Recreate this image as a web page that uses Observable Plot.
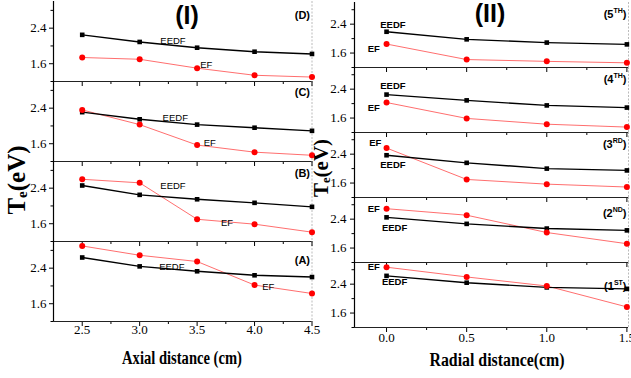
<!DOCTYPE html>
<html>
<head>
<meta charset="utf-8">
<script src="https://cdn.jsdelivr.net/npm/d3@7"></script>
<script src="https://cdn.jsdelivr.net/npm/@observablehq/plot@0.6"></script>
<style>
  html, body { margin: 0; padding: 0; background: #fff; }
  #wrap { position: relative; width: 631px; height: 378px; overflow: hidden; background: #fff; }
  #left, #right { position: absolute; top: 0; }
  #left { left: 0; }
  #right { left: 316px; }
  .t { position: absolute; white-space: nowrap; color: #000; line-height: 1; }
  .title { font-family: "Liberation Sans Narrow", "Liberation Sans", sans-serif; font-weight: bold; font-size: 25px; transform: translate(-50%, -50%); }
  .ylab { font-family: "Liberation Serif", serif; font-weight: bold; transform: translate(-50%, -50%) rotate(-90deg); }
  .ylab sub { font-size: 0.6em; vertical-align: -0.15em; }
  .xlab { font-family: "Liberation Serif", serif; font-weight: bold; font-size: 18px; }
</style>
</head>
<body>
<div id="wrap">
  <div id="left"></div>
  <div id="right"></div>
  <div class="t title" style="left:187px; top:15px;">(I)</div>
  <div class="t title" style="left:490px; top:13px;">(II)</div>
  <div class="t ylab" style="left:17px; top:180px; font-size:25px;">T<sub>e</sub>(eV)</div>
  <div class="t ylab" style="left:322px; top:168px; font-size:21px;">T<sub>e</sub>(eV)</div>
  <div class="t xlab" style="left:182px; top:357.5px; transform: translate(-50%, -50%) scaleX(0.81);">Axial distance (cm)</div>
  <div class="t xlab" style="left:497px; top:360px; transform: translate(-50%, -50%) scaleX(0.88);">Radial distance(cm)</div>
</div>
<script>
// ---------------- Data ----------------
// Panel (I): axial distance (cm)
const axialX = [2.5, 3.0, 3.5, 4.0, 4.5];
const axialPanels = ["D", "C", "B", "A"];
const eedfD = [2.25, 2.09, 1.96, 1.87, 1.82];
const efD   = [1.74, 1.70, 1.50, 1.34, 1.30];
const eedfC = [2.31, 2.15, 2.03, 1.96, 1.89];
const efC   = [2.36, 2.03, 1.57, 1.41, 1.34];
const eedfB = [2.46, 2.25, 2.15, 2.07, 1.98];
const efB   = [2.60, 2.52, 1.70, 1.59, 1.41];
const eedfA = [2.64, 2.44, 2.33, 2.24, 2.20];
const efA   = [2.90, 2.69, 2.55, 2.02, 1.83];

// Panel (II): radial distance (cm)
const radialX = [0.0, 0.5, 1.0, 1.5];
const radialPanels = ["5", "4", "3", "2", "1"];
const radialSup = ["TH", "TH", "RD", "ND", "ST"];
const eedf5 = [2.19, 1.98, 1.89, 1.84];
const ef5   = [1.85, 1.42, 1.37, 1.33];
const eedf4 = [2.25, 2.09, 1.95, 1.89];
const ef4   = [2.03, 1.59, 1.43, 1.35];
const eedf3 = [2.37, 2.16, 2.00, 1.95];
const ef3   = [2.57, 1.70, 1.57, 1.49];
const eedf2 = [2.45, 2.27, 2.14, 2.09];
const ef2   = [2.69, 2.51, 2.03, 1.72];
const eedf1 = [2.63, 2.44, 2.31, 2.27];
const ef1   = [2.87, 2.60, 2.35, 1.77];

// Ticks
const yMajorTicks = [1.6, 2.4];
const yMinorTicks = [1.2, 2.0, 2.8];
const axialMajorTicks = [2.5, 3.0, 3.5, 4.0, 4.5];
const axialMinorTicks = [2.75, 3.25, 3.75, 4.25];
const radialMajorTicks = [0.0, 0.5, 1.0, 1.5];
const radialMinorTicks = [0.25, 0.75, 1.25];

// Curve annotations (panel, text, x, y in data units)
const axialNotePanel = ["D", "D", "C", "C", "B", "B", "A", "A"];
const axialNoteText  = ["EEDF", "EF", "EEDF", "EF", "EEDF", "EF", "EEDF", "EF"];
const axialNoteX     = [3.29, 3.58, 3.31, 3.61, 3.29, 3.76, 3.28, 4.12];
const axialNoteY     = [2.12, 1.58, 2.18, 1.61, 2.46, 1.62, 2.42, 1.97];
const axialTagY      = [2.69, 2.76, 2.73, 2.58];

const radialNotePanel = ["5", "5", "4", "4", "3", "3", "2", "2", "1", "1"];
const radialNoteText  = ["EEDF", "EF", "EEDF", "EF", "EF", "EEDF", "EF", "EEDF", "EF", "EEDF"];
const radialNoteX     = [0.04, -0.08, 0.04, -0.08, -0.07, 0.04, -0.08, 0.05, -0.08, 0.05];
const radialNoteY     = [2.37, 1.71, 2.50, 1.89, 2.70, 2.11, 2.69, 2.16, 2.88, 2.45];
const radialTagY      = [2.68, 2.68, 2.66, 2.55, 2.35];

// ---------------- Build ----------------
function buildRows(panels, xs, eedfs, efs) {
  return panels.flatMap((p, i) => xs.map((x, j) => ({panel: p, x, eedf: eedfs[i][j], ef: efs[i][j]})));
}
function buildNotes(panels, texts, xs, ys) {
  return panels.map((p, i) => ({panel: p, text: texts[i], x: xs[i], y: ys[i]}));
}

const axialRows = buildRows(axialPanels, axialX, [eedfD, eedfC, eedfB, eedfA], [efD, efC, efB, efA]);
const radialRows = buildRows(radialPanels, radialX, [eedf5, eedf4, eedf3, eedf2, eedf1], [ef5, ef4, ef3, ef2, ef1]);
const axialNotes = buildNotes(axialNotePanel, axialNoteText, axialNoteX, axialNoteY);
const radialNotes = buildNotes(radialNotePanel, radialNoteText, radialNoteX, radialNoteY);
const axialTags = axialPanels.map((p, i) => ({panel: p, label: `(${p})`, y: axialTagY[i]}));
const radialTags = radialPanels.map((p, i) => ({panel: p, label: `(${p}|${radialSup[i]})`, y: radialTagY[i]}));

const fmt = d3.format(".1f");

function makeChart(o) {
  const svg = Plot.plot({
    width: o.width, height: o.height,
    marginLeft: o.marginLeft, marginRight: o.marginRight, marginTop: 0, marginBottom: o.marginBottom,
    style: {fontFamily: '"Liberation Serif", serif', fontSize: "13px", background: "transparent", overflow: "visible", color: "#000"},
    x: {domain: o.xDomain},
    y: {domain: [1.2, 3.0]},
    fy: {domain: o.panels, padding: 0, axis: null},
    marks: [
      Plot.ruleX([o.xDomain[1]], {stroke: "#bbb", strokeDasharray: "2,1.5"}),
      Plot.axisY({ticks: yMajorTicks, tickSize: 4, tickPadding: o.yPad, tickFormat: fmt, fontSize: 13, label: null}),
      Plot.axisY({ticks: yMinorTicks, tickSize: 2.5, fill: "none", label: null}),
      Plot.axisX({ticks: o.majorX, tickSize: 5, fill: "none", facetAnchor: null, label: null}),
      Plot.axisX({ticks: o.minorX, tickSize: 3, fill: "none", facetAnchor: null, label: null}),
      Plot.axisX({ticks: o.majorX, tickSize: 0, tickPadding: o.xPad, tickFormat: fmt, fontSize: 13, label: null}),
      Plot.line(o.rows, {x: "x", y: "ef", fy: "panel", stroke: "#ff1a1a", strokeWidth: 0.8, strokeOpacity: 0.8}),
      Plot.line(o.rows, {x: "x", y: "eedf", fy: "panel", stroke: "#000", strokeWidth: 1.4}),
      Plot.dot(o.rows, {x: "x", y: "eedf", fy: "panel", symbol: "square", r: 2.6, fill: "#000"}),
      Plot.dot(o.rows, {x: "x", y: "ef", fy: "panel", r: 3, fill: "#ff0000"}),
      Plot.text(o.notes, {x: "x", y: "y", fy: "panel", text: "text", fontFamily: '"Liberation Sans", sans-serif', fontSize: 9.5, fontWeight: o.noteWeight, fill: "#000"}),
      Plot.text(o.tags, {x: () => o.xDomain[1], y: "y", fy: "panel", text: "label", textAnchor: "end", dx: -2, fontFamily: '"Liberation Sans", sans-serif', fontSize: 11, fontWeight: "bold", fill: "#000"}),
      Plot.ruleY([1.2], {stroke: "#222", strokeWidth: 1.2}),
      Plot.ruleX([o.xDomain[0]], {stroke: "#000", strokeWidth: 1.2})
    ]
  });
  // superscripts in panel tags, e.g. (5|TH) -> (5^TH)
  d3.select(svg).selectAll("text").each(function() {
    const s = this.textContent;
    const m = s.match(/^\((.*?)\|(.*)\)$/);
    if (!m) return;
    const t = d3.select(this);
    t.selectAll("*").remove();
    t.text(null);
    t.append("tspan").text("(" + m[1]);
    t.append("tspan").attr("dy", -5).attr("font-size", 7).text(m[2]);
    t.append("tspan").attr("dy", 5).text(")");
  });
  return svg;
}

document.getElementById("left").append(makeChart({
  width: 315, height: 378, marginLeft: 53, marginRight: 3.5, marginBottom: 57,
  xDomain: [2.25, 4.5], panels: axialPanels, rows: axialRows, notes: axialNotes, tags: axialTags,
  majorX: axialMajorTicks, minorX: axialMinorTicks, xPad: 3, yPad: 3, noteWeight: "normal"
}));
document.getElementById("right").append(makeChart({
  width: 315, height: 378, marginLeft: 38, marginRight: 3, marginBottom: 49,
  xDomain: [-0.2, 1.51], panels: radialPanels, rows: radialRows, notes: radialNotes, tags: radialTags,
  majorX: radialMajorTicks, minorX: radialMinorTicks, xPad: 5, yPad: 4, noteWeight: "bold"
}));
</script>
</body>
</html>
